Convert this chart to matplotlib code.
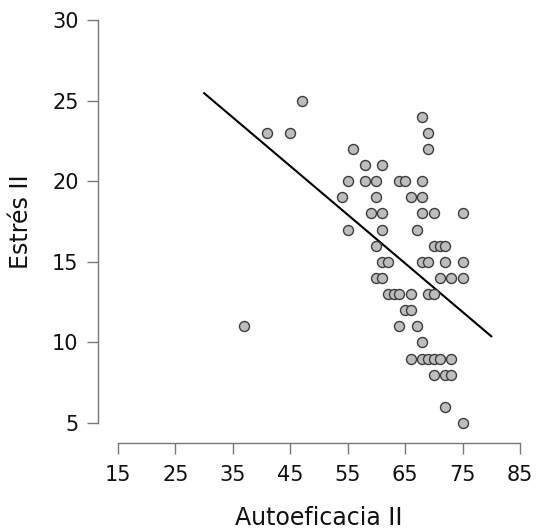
import matplotlib
matplotlib.use("Agg")
import matplotlib.pyplot as plt

# Data
autoeficacia = [47, 41, 45, 69, 68, 56, 69, 58, 61,
                55, 58, 60, 64, 65, 68,
                54, 60, 66, 68,
                59, 61, 68, 70, 75,
                55, 61, 67,
                60, 70, 71, 72,
                61, 62, 68, 69, 72, 75,
                60, 61, 71, 73, 75,
                62, 63, 64, 66, 69, 70,
                65, 66,
                37, 64, 67,
                68,
                66, 68, 69, 70, 71, 73,
                70, 72, 73,
                72,
                75]
estres = [25, 23, 23, 23, 24, 22, 22, 21, 21,
          20, 20, 20, 20, 20, 20,
          19, 19, 19, 19,
          18, 18, 18, 18, 18,
          17, 17, 17,
          16, 16, 16, 16,
          15, 15, 15, 15, 15, 15,
          14, 14, 14, 14, 14,
          13, 13, 13, 13, 13, 13,
          12, 12,
          11, 11, 11,
          10,
          9, 9, 9, 9, 9, 9,
          8, 8, 8,
          6,
          5]

line_x = [30, 80]
line_y = [25.46, 10.38]

x_ticks = [15, 25, 35, 45, 55, 65, 75, 85]
y_ticks = [5, 10, 15, 20, 25, 30]

W, H = 537, 529
fig = plt.figure(figsize=(W / 100, H / 100), dpi=100)
ax = fig.add_axes([118 / W, 1 - 423 / H, (520 - 118) / W, (423 - 20) / H])

ax.plot(line_x, line_y, color="black", lw=1.5, zorder=2, clip_on=False)
ax.scatter(autoeficacia, estres, s=52, facecolor="#bdbdbd", edgecolor="#3c3c3c",
           linewidth=1.0, zorder=3, clip_on=False)

ax.set_xlim(15, 85)
ax.set_ylim(5, 30)
ax.set_xticks(x_ticks)
ax.set_yticks(y_ticks)

for s in ["top", "right"]:
    ax.spines[s].set_visible(False)
ax.spines["left"].set_position(("outward", 14.4))
ax.spines["bottom"].set_position(("outward", 14.4))
ax.spines["left"].set_bounds(5, 30)
ax.spines["bottom"].set_bounds(15, 85)
for s in ["left", "bottom"]:
    ax.spines[s].set_color("#777777")
    ax.spines[s].set_linewidth(1.0)

ax.tick_params(axis="both", length=8, width=1.0, color="#777777",
               labelsize=15, labelcolor="#111111", pad=6)
ax.tick_params(axis="x", pad=8)

ax.set_xlabel("Autoeficacia II", fontsize=17, color="#111111", labelpad=15)
ax.set_ylabel("Estrés II", fontsize=17, color="#111111", labelpad=14)

fig.savefig("out.png", dpi=100)
